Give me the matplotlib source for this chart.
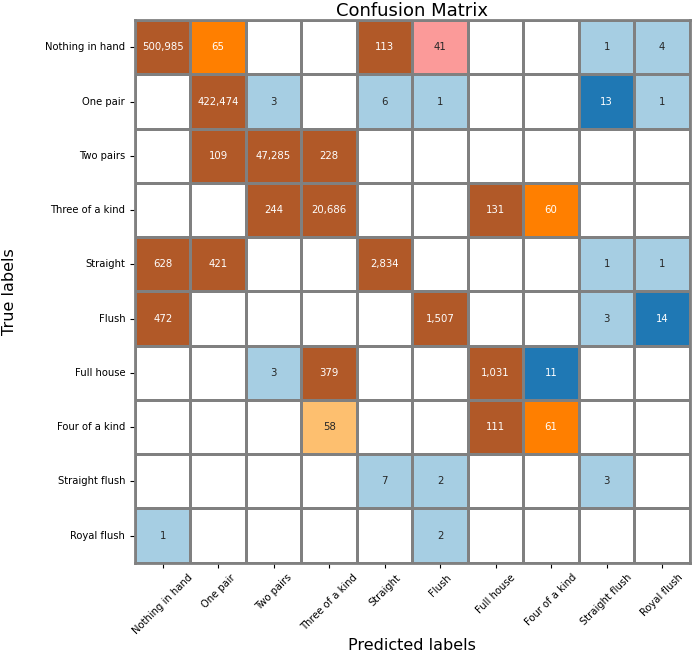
import numpy as np
import matplotlib
matplotlib.use("Agg")
import matplotlib.pyplot as plt
import seaborn as sns

labels = ["Nothing in hand", "One pair", "Two pairs", "Three of a kind", "Straight",
          "Flush", "Full house", "Four of a kind", "Straight flush", "Royal flush"]

row_nothing = [500985, 65, 0, 0, 113, 41, 0, 0, 1, 4]
row_one_pair = [0, 422474, 3, 0, 6, 1, 0, 0, 13, 1]
row_two_pairs = [0, 109, 47285, 228, 0, 0, 0, 0, 0, 0]
row_three = [0, 0, 244, 20686, 0, 0, 131, 60, 0, 0]
row_straight = [628, 421, 0, 0, 2834, 0, 0, 0, 1, 1]
row_flush = [472, 0, 0, 0, 0, 1507, 0, 0, 3, 14]
row_full_house = [0, 0, 3, 379, 0, 0, 1031, 11, 0, 0]
row_four = [0, 0, 0, 58, 0, 0, 111, 61, 0, 0]
row_straight_flush = [0, 0, 0, 0, 7, 2, 0, 0, 3, 0]
row_royal = [1, 0, 0, 0, 0, 2, 0, 0, 0, 0]

cm = np.array([row_nothing, row_one_pair, row_two_pairs, row_three, row_straight,
               row_flush, row_full_house, row_four, row_straight_flush, row_royal])

fig = plt.figure(figsize=(6.92, 6.52), dpi=100)
ax = fig.add_axes([0.195, 0.137, 0.802, 0.832])

sns.heatmap(cm, mask=(cm == 0), annot=True, fmt=",", cmap="Paired", vmin=0, vmax=100,
            cbar=False, linewidths=2, linecolor="gray", annot_kws={"fontsize": 7.3},
            ax=ax, xticklabels=labels, yticklabels=labels)

ax.set_xlim(0, 10)
ax.set_ylim(10, 0)
for s in ax.spines.values():
    s.set_visible(True)
    s.set_color("gray")
    s.set_linewidth(2)

ax.tick_params(axis="both", labelsize=7.2, length=3.5)
plt.setp(ax.get_xticklabels(), rotation=45, ha="center", va="top", rotation_mode="default")
plt.setp(ax.get_yticklabels(), rotation=0)
ax.set_title("Confusion Matrix", fontsize=13, pad=3)
ax.set_xlabel("Predicted labels", fontsize=11.5, labelpad=1)
ax.set_ylabel("True labels", fontsize=11.5, labelpad=20)

fig.savefig("out.png", dpi=100)
